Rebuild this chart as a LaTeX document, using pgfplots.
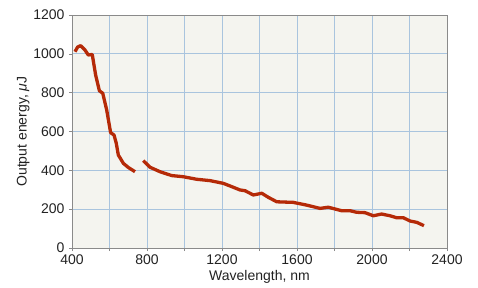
\documentclass[border=0pt]{standalone}
\usepackage{fontspec}
\setmainfont{Liberation Sans}
\usepackage{pgfplots}
\pgfplotsset{compat=1.18}
\definecolor{gridblue}{HTML}{A9C4DE}
\definecolor{bgc}{HTML}{F4F4EF}
\definecolor{linered}{HTML}{B52A08}
\definecolor{axgray}{HTML}{8A8A8A}
\definecolor{txt}{HTML}{222222}
\begin{document}
\begin{tikzpicture}[x=1pt,y=1pt]
\useasboundingbox (-72,-39) rectangle (406,248);
\begin{axis}[
  at={(0,0)}, anchor=south west,
  scale only axis, width=375pt, height=233pt,
  xmin=400, xmax=2400, ymin=0, ymax=1200,
  xtick={400,600,...,2400},
  xticklabels={400,,800,,1200,,1600,,2000,,2400},
  ytick={0,200,...,1200},
  grid=major,
  major grid style={gridblue, line width=0.8pt},
  axis background/.style={fill=bgc},
  axis line style={axgray, line width=0.8pt},
  tick style={axgray, line width=0.6pt},
  major tick length=3pt,
  tick pos=left,
  tick align=outside,
  font=\fontsize{14}{16}\selectfont,
  ticklabel style={text=txt},
  /pgf/number format/assume math mode=true,
  /pgf/number format/1000 sep={},
  xlabel={Wavelength, nm},
  ylabel={Output energy, \textit{μ}J},
  label style={text=txt},
  xlabel style={yshift=1pt},
  ylabel style={yshift=-3pt},
  yticklabel style={xshift=-1pt},
  xticklabel style={yshift=0pt},
]
\addplot[linered, line width=3.3pt, line join=round] coordinates {
(416,1011)(430,1035)(446,1042)(469,1020)(487,994)(508,997)(526,891)(546,810)(564,797)(585,711)(606,594)(624,582)(636,540)(647,479)(674,436)(700,415)(736,393)
};
\addplot[linered, line width=3.3pt, line join=round] coordinates {
(780,450)(816,416)(869,393)(932,373)(994,367)(1065,354)(1136,347)(1207,333)(1260,313)(1296,299)(1323,295)(1367,273)(1393,278)(1412,282)(1447,261)(1492,238)(1580,235)(1651,221)(1723,204)(1767,210)(1838,192)(1883,192)(1918,184)(1963,182)(2007,166)(2051,175)(2096,166)(2131,156)(2167,156)(2203,139)(2239,132)(2277,115)
};
\end{axis}
\end{tikzpicture}
\end{document}
